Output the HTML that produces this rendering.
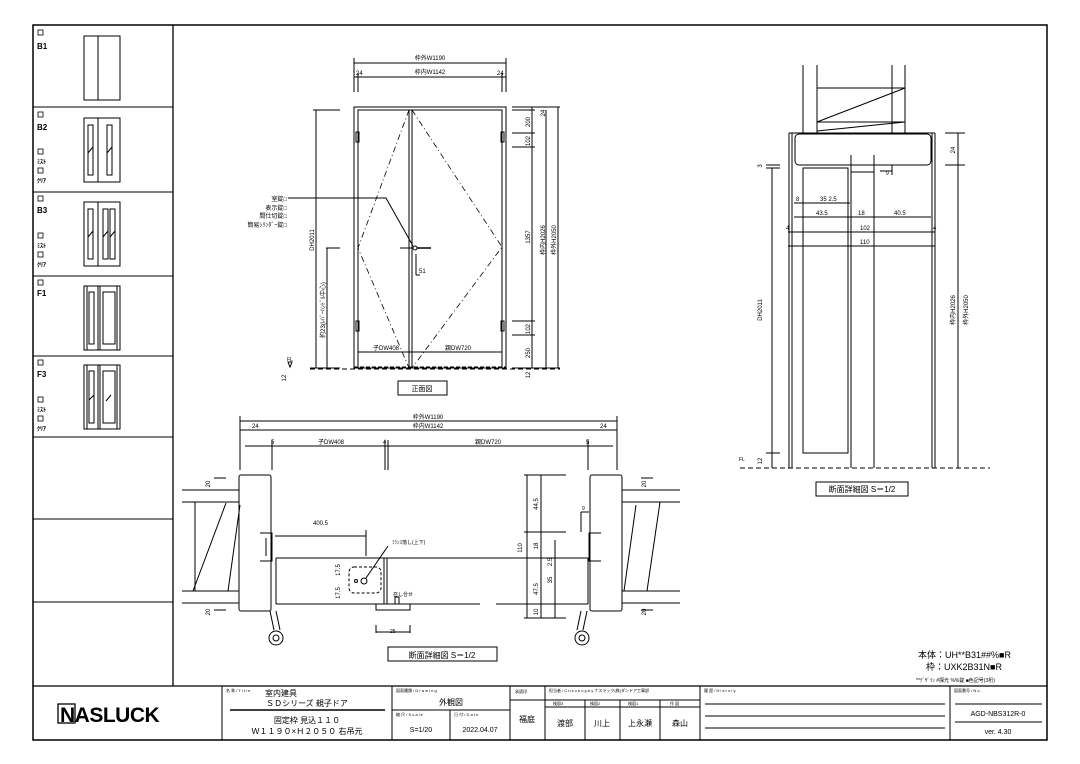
<!DOCTYPE html>
<html><head><meta charset="utf-8"><style>
html,body{margin:0;padding:0;background:#fff}
svg{display:block}
text{font-family:"Liberation Sans","Noto Sans CJK JP",sans-serif;fill:#000}
</style></head><body>
<svg width="1080" height="764" viewBox="0 0 1080 764" xmlns="http://www.w3.org/2000/svg">
<g fill="none" stroke="#000" stroke-width="1">
<rect x="33" y="25" width="1014" height="715" stroke-width="1.5"/>
<line x1="173" y1="25" x2="173" y2="686" stroke-width="1.3"/>
<line x1="33" y1="686" x2="1047" y2="686" stroke-width="1.3"/>
<line x1="33" y1="107" x2="173" y2="107"/>
<line x1="33" y1="192" x2="173" y2="192"/>
<line x1="33" y1="276" x2="173" y2="276"/>
<line x1="33" y1="356" x2="173" y2="356"/>
<line x1="33" y1="437" x2="173" y2="437"/>
<line x1="33" y1="519" x2="173" y2="519"/>
<line x1="33" y1="602" x2="173" y2="602"/>
<rect x="84" y="36" width="36" height="64"/><line x1="98" y1="36" x2="98" y2="100"/>
<rect x="84" y="118" width="36" height="64"/><line x1="98" y1="118" x2="98" y2="182"/>
<rect x="88" y="125" width="5" height="50"/><rect x="107" y="125" width="5" height="50"/>
<line x1="88" y1="153" x2="93" y2="147"/><line x1="107" y1="153" x2="112" y2="147"/>
<rect x="84" y="202" width="36" height="64"/><line x1="98" y1="202" x2="98" y2="266"/>
<rect x="88" y="209" width="5" height="50"/><rect x="103" y="209" width="5" height="50"/><rect x="110" y="209" width="5" height="50"/>
<line x1="88" y1="237" x2="93" y2="231"/><line x1="103" y1="237" x2="108" y2="231"/><line x1="110" y1="237" x2="115" y2="231"/>
<rect x="84" y="286" width="36" height="64"/><line x1="98" y1="286" x2="98" y2="350"/><line x1="100" y1="286" x2="100" y2="350"/>
<line x1="87" y1="286" x2="87" y2="350"/><line x1="117" y1="286" x2="117" y2="350"/>
<rect x="89" y="292" width="5" height="52"/><rect x="103" y="292" width="12" height="52"/>
<rect x="84" y="365" width="36" height="64"/><line x1="98" y1="365" x2="98" y2="429"/><line x1="100" y1="365" x2="100" y2="429"/>
<line x1="87" y1="365" x2="87" y2="429"/><line x1="117" y1="365" x2="117" y2="429"/>
<rect x="89" y="371" width="5" height="52"/><rect x="103" y="371" width="12" height="52"/>
<line x1="89" y1="400" x2="94" y2="395"/><line x1="106" y1="401" x2="111" y2="395"/>
<g stroke-width="0.8">
<rect x="38" y="30" width="5" height="5"/>
<rect x="38" y="112" width="5" height="5"/><rect x="38" y="149" width="5" height="5"/><rect x="38" y="168" width="5" height="5"/>
<rect x="38" y="196" width="5" height="5"/><rect x="38" y="233" width="5" height="5"/><rect x="38" y="252" width="5" height="5"/>
<rect x="38" y="280" width="5" height="5"/>
<rect x="38" y="360" width="5" height="5"/><rect x="38" y="397" width="5" height="5"/><rect x="38" y="416" width="5" height="5"/>
</g>

<!-- Front elevation -->
<rect x="354" y="107" width="152" height="261"/>
<rect x="358" y="110" width="144" height="258"/>
<line x1="409" y1="110" x2="409" y2="368"/><line x1="412" y1="110" x2="412" y2="368"/>
<line x1="354" y1="367" x2="506" y2="367" stroke-dasharray="4,2"/>
<g stroke-dasharray="6,3,1,3" stroke-width="0.8">
<polyline points="409,110 358,248 409,368"/>
<polyline points="412,110 502,247 412,368"/>
</g>
<rect x="356" y="132" width="3" height="10"/><rect x="501" y="132" width="3" height="10"/>
<rect x="356" y="321" width="3" height="10"/><rect x="501" y="321" width="3" height="10"/>
<line x1="358" y1="352" x2="502" y2="352"/>
<circle cx="415" cy="248" r="2"/><line x1="417" y1="248" x2="431" y2="248" stroke-width="1.5"/>
<line x1="400" y1="248" x2="413" y2="248"/>
<polyline points="288,198 386,198 413,246"/>
<line x1="416" y1="254" x2="416" y2="275"/><line x1="416" y1="275" x2="420" y2="275"/>
<line x1="354" y1="63" x2="506" y2="63"/>
<line x1="354" y1="77" x2="506" y2="77"/>
<line x1="354" y1="58" x2="354" y2="92"/><line x1="506" y1="58" x2="506" y2="92"/>
<line x1="358" y1="73" x2="358" y2="92"/><line x1="502" y1="73" x2="502" y2="92"/>
<line x1="313" y1="110" x2="340" y2="110"/>
<line x1="316" y1="110" x2="316" y2="368"/>
<line x1="326" y1="248" x2="340" y2="248"/>
<line x1="327" y1="248" x2="327" y2="368"/>
<line x1="310" y1="368" x2="340" y2="368"/>
<line x1="512" y1="107" x2="560" y2="107"/>
<line x1="512" y1="110" x2="535" y2="110"/>
<line x1="512" y1="133" x2="535" y2="133"/><line x1="512" y1="147" x2="535" y2="147"/>
<line x1="512" y1="321" x2="535" y2="321"/><line x1="512" y1="335" x2="535" y2="335"/>
<line x1="512" y1="368" x2="560" y2="368"/>
<line x1="532" y1="107" x2="532" y2="368"/>
<line x1="546" y1="110" x2="546" y2="368"/>
<line x1="558" y1="107" x2="558" y2="368"/>
<line x1="310" y1="369" x2="560" y2="369" stroke-dasharray="5,3"/>
<path d="M288,362 l4,0 l-2,5 z"/>
<rect x="398" y="381" width="49" height="14"/>

<!-- Horizontal section -->
<line x1="240" y1="421" x2="617" y2="421"/><line x1="240" y1="416" x2="240" y2="470"/><line x1="617" y1="416" x2="617" y2="470"/>
<line x1="240" y1="430" x2="617" y2="430"/>
<line x1="245" y1="446" x2="613" y2="446"/>
<line x1="272" y1="440" x2="272" y2="470"/><line x1="385" y1="440" x2="385" y2="470"/><line x1="388" y1="440" x2="388" y2="470"/><line x1="588" y1="440" x2="588" y2="470"/>
<rect x="239" y="475" width="32" height="136" rx="2"/>
<line x1="182" y1="490" x2="239" y2="490"/><line x1="182" y1="502" x2="239" y2="502"/>
<line x1="182" y1="591" x2="239" y2="591"/><line x1="182" y1="603" x2="239" y2="603"/>
<line x1="195" y1="502" x2="195" y2="591"/>
<line x1="193" y1="591" x2="226" y2="503"/><line x1="228" y1="591" x2="240" y2="505"/>
<path d="M260,533 h12 v28 h-12 M266,538 v18"/>
<line x1="276" y1="558" x2="540" y2="558"/><line x1="276" y1="604" x2="384" y2="604"/>
<line x1="276" y1="558" x2="276" y2="604"/><line x1="384" y1="558" x2="384" y2="604"/>
<line x1="387" y1="558" x2="480" y2="558"/><line x1="387" y1="604" x2="480" y2="604"/>
<line x1="387" y1="558" x2="387" y2="604"/>
<rect x="349" y="567" width="32" height="26" rx="5" stroke-dasharray="3,2"/>
<circle cx="364" cy="581" r="3"/><circle cx="356" cy="581" r="1.5"/>
<path d="M376,604 h34 v6 h-34 z M395,604 v-7 h4 v7"/>
<line x1="275" y1="536" x2="366" y2="536"/><line x1="366" y1="530" x2="366" y2="556"/>
<line x1="366" y1="578" x2="388" y2="546"/>
<line x1="376" y1="625" x2="376" y2="633"/><line x1="410" y1="625" x2="410" y2="633"/><line x1="376" y1="632" x2="410" y2="632"/>
<line x1="270" y1="611" x2="274" y2="630"/><line x1="276" y1="611" x2="280" y2="630"/>
<circle cx="276" cy="638" r="7"/><circle cx="276" cy="638" r="3"/>
<line x1="214" y1="478" x2="226" y2="478"/><line x1="214" y1="610" x2="226" y2="610"/>
<rect x="590" y="475" width="32" height="136" rx="2"/>
<line x1="622" y1="490" x2="680" y2="490"/><line x1="622" y1="502" x2="680" y2="502"/>
<line x1="622" y1="591" x2="680" y2="591"/><line x1="622" y1="603" x2="680" y2="603"/>
<path d="M601,533 h-12 v28 h12"/>
<line x1="660" y1="502" x2="647" y2="591"/><line x1="636" y1="505" x2="624" y2="591"/>
<line x1="496" y1="558" x2="588" y2="558"/><line x1="496" y1="604" x2="588" y2="604"/>
<line x1="588" y1="558" x2="588" y2="604"/>
<line x1="524" y1="475" x2="566" y2="475"/><line x1="524" y1="532" x2="566" y2="532"/><line x1="524" y1="558" x2="566" y2="558"/><line x1="524" y1="618" x2="566" y2="618"/>
<line x1="527" y1="475" x2="527" y2="618"/><line x1="541" y1="475" x2="541" y2="618"/><line x1="555" y1="540" x2="555" y2="618"/>
<line x1="581" y1="512" x2="589" y2="512"/><line x1="581" y1="512" x2="581" y2="532"/>
<line x1="587" y1="611" x2="583" y2="630"/><line x1="581" y1="611" x2="577" y2="630"/>
<circle cx="582" cy="638" r="7"/><circle cx="582" cy="638" r="3"/>
<line x1="641" y1="478" x2="653" y2="478"/><line x1="641" y1="610" x2="653" y2="610"/>
<rect x="388" y="647" width="109" height="14"/>

<!-- Right vertical section -->
<line x1="803" y1="65" x2="803" y2="133"/><line x1="905" y1="65" x2="905" y2="133"/>
<line x1="817" y1="65" x2="817" y2="133"/><line x1="892" y1="65" x2="892" y2="133"/>
<line x1="817" y1="88" x2="905" y2="88"/><line x1="817" y1="122" x2="905" y2="122"/>
<line x1="817" y1="122" x2="905" y2="88"/><line x1="817" y1="131" x2="905" y2="122"/>
<rect x="795" y="134" width="136" height="31" rx="4"/>
<line x1="789" y1="133" x2="935" y2="133"/>
<line x1="789" y1="133" x2="789" y2="468"/><line x1="792" y1="133" x2="792" y2="468"/>
<line x1="932" y1="133" x2="932" y2="468"/><line x1="935" y1="133" x2="935" y2="468"/>
<rect x="803" y="168" width="45" height="285"/>
<line x1="851" y1="168" x2="851" y2="468"/><line x1="874" y1="168" x2="874" y2="468"/>
<path d="M851,155 v17 h23 v-17"/>
<line x1="740" y1="468" x2="990" y2="468" stroke-dasharray="5,3"/>
<line x1="772" y1="168" x2="772" y2="468"/><line x1="766" y1="165" x2="780" y2="165"/><line x1="766" y1="168" x2="780" y2="168"/>
<line x1="766" y1="453" x2="780" y2="453"/>
<line x1="958" y1="133" x2="958" y2="468"/><line x1="945" y1="133" x2="965" y2="133"/><line x1="945" y1="165" x2="965" y2="165"/>
<line x1="794" y1="203" x2="850" y2="203"/><line x1="794" y1="217" x2="931" y2="217"/>
<line x1="788" y1="232" x2="935" y2="232"/><line x1="788" y1="246" x2="935" y2="246"/>
<line x1="880" y1="171" x2="892" y2="171"/><line x1="892" y1="165" x2="892" y2="175"/>
<rect x="816" y="482" width="92" height="14"/>

<!-- Title block -->
<line x1="222" y1="686" x2="222" y2="740"/>
<line x1="392" y1="686" x2="392" y2="740"/>
<line x1="510" y1="686" x2="510" y2="740"/>
<line x1="545" y1="686" x2="545" y2="740"/>
<line x1="700" y1="686" x2="700" y2="740"/>
<line x1="950" y1="686" x2="950" y2="740"/>
<line x1="230" y1="710" x2="385" y2="710" stroke-width="1.5"/>
<line x1="392" y1="710" x2="510" y2="710"/>
<line x1="450" y1="710" x2="450" y2="740"/>
<line x1="510" y1="700" x2="700" y2="700"/>
<line x1="545" y1="707" x2="700" y2="707"/>
<line x1="585" y1="700" x2="585" y2="740"/><line x1="620" y1="700" x2="620" y2="740"/><line x1="660" y1="700" x2="660" y2="740"/>
<line x1="705" y1="704" x2="945" y2="704"/><line x1="705" y1="716" x2="945" y2="716"/><line x1="705" y1="728" x2="945" y2="728"/>
<line x1="955" y1="704" x2="1042" y2="704"/><line x1="955" y1="722" x2="1042" y2="722"/>
</g>

<g font-size="8" font-weight="bold">
<text x="37" y="49">B1</text>
<text x="37" y="130">B2</text><text x="37" y="164" font-size="6">ﾐｽﾄ</text><text x="37" y="183" font-size="6">ｸﾘｱ</text>
<text x="37" y="213">B3</text><text x="37" y="248" font-size="6">ﾐｽﾄ</text><text x="37" y="267" font-size="6">ｸﾘｱ</text>
<text x="37" y="296">F1</text>
<text x="37" y="377">F3</text><text x="37" y="412" font-size="6">ﾐｽﾄ</text><text x="37" y="431" font-size="6">ｸﾘｱ</text>
</g>

<g font-size="6">
<text x="430" y="60" text-anchor="middle">枠外W1190</text>
<text x="430" y="74" text-anchor="middle">枠内W1142</text>
<text x="356" y="75">24</text><text x="497" y="75">24</text>
<text x="287" y="201" text-anchor="end">室錠□</text>
<text x="287" y="210" text-anchor="end">表示錠□</text>
<text x="287" y="218" text-anchor="end">間仕切錠□</text>
<text x="287" y="227" text-anchor="end">簡易ｼﾘﾝﾀﾞｰ錠□</text>
<text x="419" y="273">51</text>
<text x="373" y="350">子DW408</text><text x="445" y="350">親DW720</text>
<text transform="translate(314,240) rotate(-90)" text-anchor="middle">DH2011</text>
<text transform="translate(325,310) rotate(-90)" text-anchor="middle">約23(ﾚﾊﾞｰﾊﾝﾄﾞﾙ中心)</text>
<text transform="translate(530,122) rotate(-90)" text-anchor="middle">200</text>
<text transform="translate(530,141) rotate(-90)" text-anchor="middle">102</text>
<text transform="translate(530,237) rotate(-90)" text-anchor="middle">1357</text>
<text transform="translate(530,329) rotate(-90)" text-anchor="middle">102</text>
<text transform="translate(530,353) rotate(-90)" text-anchor="middle">250</text>
<text transform="translate(530,375) rotate(-90)" text-anchor="middle">12</text>
<text transform="translate(545,240) rotate(-90)" text-anchor="middle">枠内H2026</text>
<text transform="translate(556,240) rotate(-90)" text-anchor="middle">枠外H2050</text>
<text transform="translate(545,113) rotate(-90)" text-anchor="middle">24</text>
<text transform="translate(286,378) rotate(-90)" text-anchor="middle">12</text>
<text x="287" y="361" font-size="5">FL</text>
</g>
<text x="422" y="391" font-size="7" text-anchor="middle">正面図</text>

<g font-size="6">
<text x="428" y="419" text-anchor="middle">枠外W1190</text>
<text x="428" y="428" text-anchor="middle">枠内W1142</text>
<text x="252" y="428">24</text><text x="600" y="428">24</text>
<text x="271" y="444">5</text><text x="318" y="444">子DW408</text><text x="383" y="444">4</text><text x="475" y="444">親DW720</text><text x="586" y="444">5</text>
<text x="313" y="525">400.5</text>
<text x="392" y="544" font-size="5">ﾌﾗﾝｽ落し(上下)</text>
<text x="393" y="596" font-size="5">召し合せ</text>
<text x="390" y="633" font-size="5">25</text>
<text transform="translate(210,484) rotate(-90)" text-anchor="middle">20</text>
<text transform="translate(210,612) rotate(-90)" text-anchor="middle">20</text>
<text transform="translate(340,570) rotate(-90)" text-anchor="middle">17.5</text>
<text transform="translate(340,593) rotate(-90)" text-anchor="middle">17.5</text>
<text transform="translate(522,548) rotate(-90)" text-anchor="middle">110</text>
<text transform="translate(538,504) rotate(-90)" text-anchor="middle">44.5</text>
<text transform="translate(538,546) rotate(-90)" text-anchor="middle">18</text>
<text transform="translate(538,589) rotate(-90)" text-anchor="middle">47.5</text>
<text transform="translate(538,612) rotate(-90)" text-anchor="middle">10</text>
<text transform="translate(552,580) rotate(-90)" text-anchor="middle">35</text>
<text transform="translate(552,562) rotate(-90)" text-anchor="middle">2.5</text>
<text transform="translate(646,484) rotate(-90)" text-anchor="middle">20</text>
<text transform="translate(646,612) rotate(-90)" text-anchor="middle">20</text>
<text x="582" y="510" font-size="5">9</text>
</g>
<text x="442" y="658" font-size="8" text-anchor="middle">断面詳細図  S＝1/2</text>

<g font-size="6">
<text x="796" y="201">8</text><text x="820" y="201">35  2.5</text>
<text x="816" y="215">43.5</text><text x="858" y="215">18</text><text x="894" y="215">40.5</text>
<text x="860" y="230">102</text><text x="786" y="230">4</text><text x="933" y="230">4</text>
<text x="860" y="244">110</text>
<text x="886" y="175" font-size="5">9</text>
<text transform="translate(762,166) rotate(-90)" text-anchor="middle">3</text>
<text transform="translate(762,310) rotate(-90)" text-anchor="middle">DH2011</text>
<text transform="translate(762,461) rotate(-90)" text-anchor="middle">12</text>
<text transform="translate(955,150) rotate(-90)" text-anchor="middle">24</text>
<text transform="translate(955,310) rotate(-90)" text-anchor="middle">枠内H2026</text>
<text transform="translate(968,310) rotate(-90)" text-anchor="middle">枠外H2050</text>
<text x="739" y="461" font-size="5">FL</text>
</g>
<text x="862" y="492" font-size="8" text-anchor="middle">断面詳細図  S＝1/2</text>

<text x="918" y="658" font-size="9">本体：UH**B31##%■R</text>
<text x="926" y="670" font-size="9">枠：UXK2B31N■R</text>
<text x="916" y="682" font-size="5">**ﾃﾞｻﾞｲﾝ  #探光  %%錠  ■色記号(3桁)</text>

<text x="60" y="722" font-size="21" font-weight="bold" letter-spacing="-0.5">NASLUCK</text>
<rect x="58" y="704" width="17" height="19" fill="none" stroke="#000" stroke-width="1.3"/>
<g font-size="4">
<text x="226" y="692">名 称 / T i t l e</text>
<text x="396" y="692">図面種類 / D r a w i n g</text>
<text x="396" y="716">縮 尺 / S c a l e</text><text x="454" y="716">日 付 / D a t e</text>
<text x="515" y="693">承認印</text>
<text x="549" y="692">担当者 / C h e c k  u p  b y  ナスラック(株)ダンドア工事部</text>
<text x="553" y="705">検図3</text><text x="590" y="705">検図2</text><text x="628" y="705">検図1</text><text x="670" y="705">作 図</text>
<text x="704" y="692">履 歴 / H i s t o r y</text>
<text x="954" y="692">図面番号 / N o .</text>
</g>
<g font-size="8">
<text x="265" y="696">室内建具</text>
<text x="307" y="706" text-anchor="middle">ＳＤシリーズ 親子ドア</text>
<text x="307" y="723" text-anchor="middle">固定枠  見込１１０</text>
<text x="307" y="734" text-anchor="middle">Ｗ１１９０×Ｈ２０５０  右吊元</text>
<text x="451" y="705" text-anchor="middle">外観図</text>
<text x="421" y="732" text-anchor="middle" font-size="7">S=1/20</text>
<text x="480" y="732" text-anchor="middle" font-size="7">2022.04.07</text>
<text x="527" y="722" text-anchor="middle">福庭</text>
<text x="565" y="726" text-anchor="middle">渡部</text>
<text x="602" y="726" text-anchor="middle">川上</text>
<text x="640" y="726" text-anchor="middle">上永瀬</text>
<text x="680" y="726" text-anchor="middle">森山</text>
<text x="998" y="716" text-anchor="middle" font-size="7">AGD-NBS312R-0</text>
<text x="998" y="734" text-anchor="middle" font-size="7">ver. 4.30</text>
</g>
</svg>
</body></html>
